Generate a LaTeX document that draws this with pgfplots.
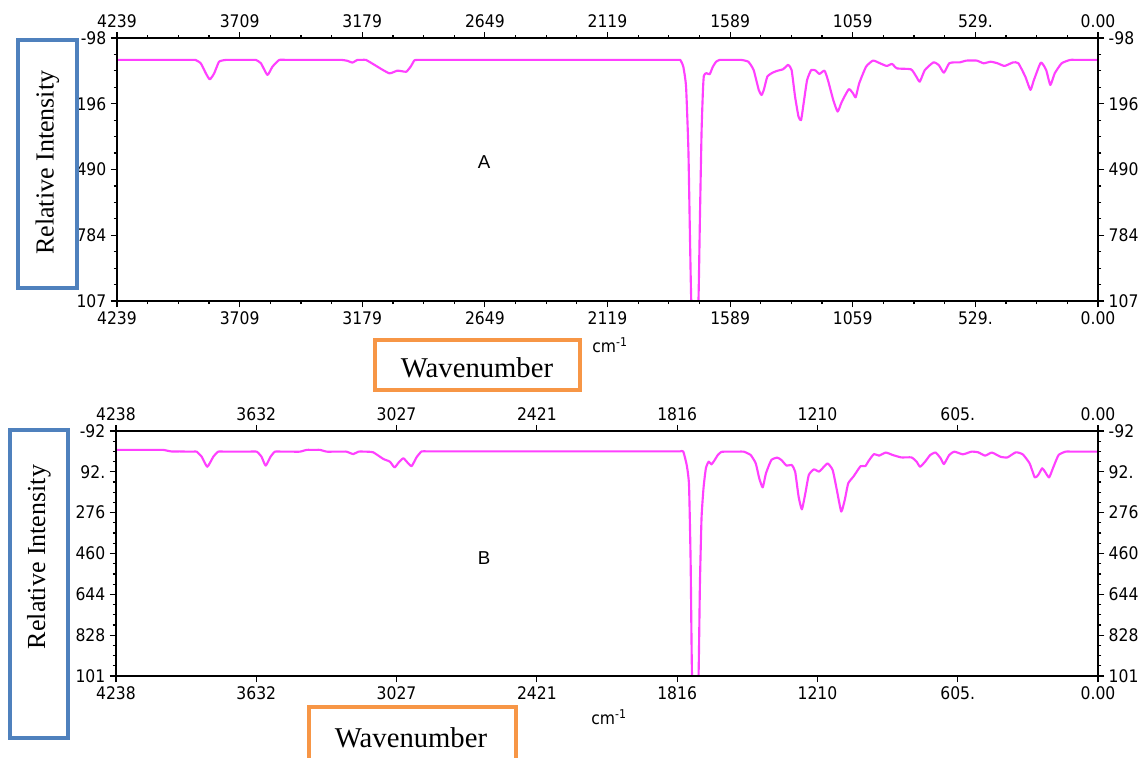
\documentclass[border=0pt]{standalone}
\usepackage{fontspec}
\setmainfont{Liberation Serif}
\newfontfamily\tickfont{DejaVu Sans Condensed}
\newfontfamily\arialfont{Liberation Sans}
\usepackage{pgfplots}
\pgfplotsset{compat=1.18}
\definecolor{spec}{RGB}{255,64,255}
\definecolor{boxblue}{RGB}{79,129,189}
\definecolor{boxorange}{RGB}{247,150,70}

\pgfplotsset{
  ir/.style={
    scale only axis, anchor=north west,
    x dir=reverse, y dir=reverse,
    axis line style={line width=1pt},
    tick align=outside,
    xtick pos=both, ytick pos=both,
    major tick length=4.5pt, minor tick length=2.25pt,
    tick style={black, line width=0.9pt},
    minor x tick num=3, minor y tick num=3,
    tick label style={font=\tickfont\fontsize{13}{14}\selectfont, text=black},
  },
  irA/.style={ir,
    at={(87.75pt,-28.5pt)}, width=735.75pt, height=197.25pt,
    xmin=0, xmax=4239, ymin=-98, ymax=1078,
    xtick={0,529.875,1059.75,1589.625,2119.5,2649.375,3179.25,3709.125,4239},
    xticklabels={0.00,529.,1059,1589,2119,2649,3179,3709,4239},
    ytick={-98,196,490,784,1078},
    yticklabels={-98,196,490,784,107},
  },
  irB/.style={ir,
    at={(87pt,-323.25pt)}, width=736.5pt, height=183.75pt,
    xmin=0, xmax=4238, ymin=-92, ymax=1012,
    xtick={0,605.43,1210.86,1816.29,2421.71,3027.14,3632.57,4238},
    xticklabels={0.00,605.,1210,1816,2421,3027,3632,4238},
    ytick={-92,92,276,460,644,828,1012},
    yticklabels={-92,92.,276,460,644,828,101},
  },
  specline/.style={spec, line width=1.6pt, line join=round, smooth, tension=0.3},
}

\pgfplotstableread{
x y
4239 0
4150 0
4050 0
3980 0
3940 0
3915 0
3900 0
3877 15
3855 60
3838 87
3819 60
3798 8
3769 0
3740 0
3700 0
3665 0
3639 0
3617 15
3589 67
3567 30
3538 0
3505 0
3460 0
3400 0
3340 0
3295 0
3266 0
3243 4
3222 12
3200 0
3180 0
3163 0
3125 23
3090 45
3062 60
3045 55
3028 48
3010 50
2989 53
2970 30
2954 2
2940 0
2920 0
2890 0
2840 0
2750 0
2600 0
2400 0
2200 0
2050 0
1950 0
1890 0
1850 0
1828 0
1815 0
1805 0
1792 30
1780 120
1770 400
1763 800
1757 1100
1742 1350
1727 1100
1720 700
1713 320
1707 134
1703 70
1692 59
1678 64
1664 30
1650 8
1635 0
1612 0
1588 0
1563 0
1541 0
1511 8
1488 45
1466 134
1454 157
1444 134
1429 75
1406 57
1384 48
1361 42
1339 22
1324 45
1309 164
1294 254
1283 269
1272 194
1257 90
1239 45
1219 48
1204 63
1182 48
1167 90
1144 179
1125 231
1107 187
1077 131
1059 149
1047 167
1032 105
1002 30
972 3
942 15
913 27
890 18
868 38
808 42
785 75
770 97
748 45
711 11
688 23
666 57
643 15
621 11
598 11
568 3
524 3
494 15
464 8
434 15
404 27
367 11
344 15
314 75
292 134
277 90
247 12
224 45
206 112
187 60
157 15
120 0
92 0
64 0
34 0
0 0
}\specA

\pgfplotstableread{
x y
4238 -7
4200 -7
4150 -7
4100 -7
4060 -7
4034 -7
4000 0
3962 0
3930 1
3905 1
3890 1
3868 24
3844 69
3818 24
3797 1
3770 1
3740 1
3700 1
3665 1
3631 1
3610 24
3592 64
3571 24
3552 1
3520 1
3480 1
3444 1
3415 -7
3385 -7
3358 -7
3329 1
3300 1
3270 1
3243 1
3214 12
3192 1
3160 1
3128 4
3084 34
3056 46
3036 72
3018 50
2998 31
2980 50
2962 66
2940 25
2919 0
2895 0
2860 0
2800 0
2700 0
2500 0
2300 0
2100 0
1980 0
1900 0
1850 0
1820 0
1803 0
1790 0
1775 61
1765 151
1758 500
1752 1015
1738 1300
1724 1015
1718 600
1711 300
1702 160
1692 75
1680 46
1668 58
1655 40
1640 15
1625 2
1600 1
1575 1
1552 1
1529 1
1499 16
1477 54
1462 121
1447 162
1433 99
1410 39
1384 28
1366 39
1344 64
1322 61
1307 91
1292 204
1278 261
1263 189
1248 106
1226 81
1204 91
1189 76
1167 54
1145 84
1127 174
1108 271
1093 219
1078 144
1056 114
1041 91
1024 66
1004 66
990 43
967 12
945 19
916 5
886 16
849 27
805 27
783 46
768 69
746 46
724 16
701 5
679 31
665 57
642 16
620 1
583 13
546 1
517 4
487 19
458 5
421 24
391 27
355 4
325 13
295 54
273 117
258 106
241 76
229 91
211 117
192 69
170 16
140 1
110 1
78 1
40 1
0 1
}\specB

\begin{document}
\begin{tikzpicture}
\useasboundingbox (0,0) rectangle (858pt,-567.75pt);

% Panel A
\begin{axis}[irA]
\addplot[specline] table[x=x,y=y] {\specA};
\end{axis}
\begin{axis}[irA, xticklabel pos=upper, yticklabel pos=right]
\end{axis}

% Panel B
\begin{axis}[irB]
\addplot[specline] table[x=x,y=y] {\specB};
\end{axis}
\begin{axis}[irB, xticklabel pos=upper, yticklabel pos=right]
\end{axis}

% Labels panel A
\draw[boxblue, line width=3pt] (13.5pt,-30pt) rectangle (57.75pt,-216pt);
\node[rotate=90, font=\fontsize{19.5}{21}\selectfont] at (35.6pt,-122pt) {Relative Intensity};
\draw[boxorange, line width=3pt] (281.25pt,-255pt) rectangle (435pt,-292.5pt);
\node[font=\fontsize{21.5}{23}\selectfont] at (357.75pt,-276pt) {Wavenumber};
\node[font=\tickfont\fontsize{13}{14}\selectfont] at (457.5pt,-258.75pt) {cm\textsuperscript{-1}};
\node[font=\arialfont\fontsize{14}{16}\selectfont] at (363pt,-121.5pt) {A};

% Labels panel B
\draw[boxblue, line width=3pt] (7.5pt,-322.5pt) rectangle (51pt,-553.5pt);
\node[rotate=90, font=\fontsize{19.5}{21}\selectfont] at (29.25pt,-417.75pt) {Relative Intensity};
\draw[boxorange, line width=3pt] (231.75pt,-530.25pt) rectangle (387pt,-580pt);
\node[font=\fontsize{21.5}{23}\selectfont] at (308.25pt,-553.5pt) {Wavenumber};
\node[font=\tickfont\fontsize{13}{14}\selectfont] at (456.75pt,-537.75pt) {cm\textsuperscript{-1}};
\node[font=\arialfont\fontsize{14}{16}\selectfont] at (363pt,-418.5pt) {B};
\end{tikzpicture}
\end{document}
